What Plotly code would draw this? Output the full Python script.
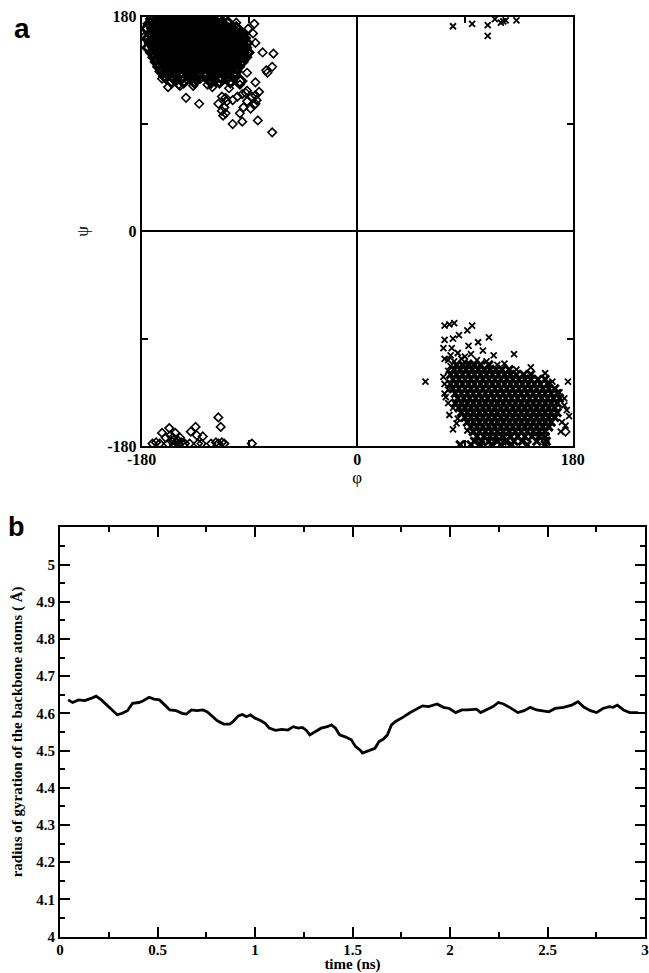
import plotly.graph_objects as go

# ---------------- Panel a : Ramachandran plot (degrees) ----------------
# residue with diamonds: dense core read as rows (psi level -> phi positions)
beta_core_psi = [178, 174, 170, 166, 162, 158, 154, 150, 146, 142, 138, 134, 130, 126]
beta_core_phi = [
    [-171, -166, -161, -156, -151, -146, -141, -136, -131, -126, -121, -116],
    [-173, -168, -163, -158, -153, -148, -143, -138, -133, -128, -123, -118, -113, -108],
    [-175, -170, -165, -160, -155, -150, -145, -140, -135, -130, -125, -120, -115, -110, -105, -101],
    [-172, -167, -162, -157, -152, -147, -142, -137, -132, -127, -122, -117, -112, -107, -102, -97],
    [-174, -169, -164, -159, -154, -149, -144, -139, -134, -129, -124, -119, -114, -109, -104, -99, -95],
    [-172, -167, -162, -157, -152, -147, -142, -137, -132, -127, -122, -117, -112, -107, -102, -97, -93],
    [-174, -169, -164, -159, -154, -149, -144, -139, -134, -129, -124, -119, -114, -109, -104, -99, -94],
    [-171, -166, -161, -156, -151, -146, -141, -136, -131, -126, -121, -116, -111, -106, -101, -96, -92],
    [-169, -164, -159, -154, -149, -144, -139, -134, -129, -124, -119, -114, -109, -104, -99, -94],
    [-167, -162, -157, -152, -147, -142, -137, -132, -127, -122, -117, -112, -107, -102, -97],
    [-165, -160, -155, -150, -145, -140, -135, -130, -125, -120, -115, -110, -105, -100],
    [-163, -157, -152, -147, -142, -137, -132, -127, -122, -117, -112, -107, -102],
    [-160, -154, -146, -140, -134, -126, -120, -114, -108, -103],
    [-155, -145, -136, -122, -115, -106, -98],
]
beta_extra_phi = [-178, -153, -149, -143, -132, -112, -104, -96, -83, -71, -70, -71, -75, -79, -86,
                  -101, -85, -85, -89, -98, -116, -110, -111, -121, -107, -93, -85, -76, -92, -85,
                  -91, -94, -87, -113, -110, -98, -92, -88, -84, -92, -96, -86, -82, -100, -104,
                  -95, -163, -158, -152, -148, -142, -137, -131, -125, -119, -113, -109,
                  # wrapped region at psi ~ -180
                  -171, -168, -165, -163, -160, -158, -157, -155, -153, -152, -150, -149, -147,
                  -144, -140, -139, -135, -134, -133, -129, -130, -122, -118, -116, -114, -116,
                  -113, -111, -88, -156, -154, -151, -148, 174]
beta_extra_psi = [163, 133, 123, 112, 107, 97, 90, 92, 93, 83, 149, 138, 133, 150, 174,
                  175, 114, 107, 103, 99, 107, 112, 104, 121, 120, 116, 125, 135, 133, 158,
                  170, 166, 166, 101, 99, 123, 118, 113, 110, 109, 115, 106, 117, 113, 110,
                  104, 128, 121, 126, 122, 127, 122, 128, 123, 126, 113, 109,
                  -178, -177, -178, -169, -173, -178, -165, -176, -179, -169, -175, -178, -177,
                  -178, -178, -168, -164, -171, -178, -172, -178, -178, -177, -156, -164, -178,
                  -177, -178, -178, -171, -173, -177, -173, -168]

# residue with crosses: dense core rows
alpha_core_psi = [-112, -116, -120, -124, -128, -132, -136, -140, -144, -148,
                  -152, -156, -160, -164, -168, -172, -176, -179]
alpha_core_phi = [
    [83, 88, 93, 98, 103, 110],
    [81, 86, 91, 96, 101, 106, 111, 116, 121, 127],
    [78, 83, 88, 93, 98, 103, 108, 113, 118, 123, 128, 133, 139, 145],
    [80, 85, 90, 95, 100, 105, 110, 115, 120, 125, 130, 135, 140, 145, 151, 157],
    [78, 83, 88, 93, 98, 103, 108, 113, 118, 123, 128, 133, 138, 143, 148, 153, 159],
    [80, 85, 90, 95, 100, 105, 110, 115, 120, 125, 130, 135, 140, 145, 150, 155, 160, 165],
    [82, 87, 92, 97, 102, 107, 112, 117, 122, 127, 132, 137, 142, 147, 152, 157, 162, 167],
    [84, 89, 94, 99, 104, 109, 114, 119, 124, 129, 134, 139, 144, 149, 154, 159, 164, 169],
    [82, 87, 92, 97, 102, 107, 112, 117, 122, 127, 132, 137, 142, 147, 152, 157, 162, 167],
    [85, 90, 95, 100, 105, 110, 115, 120, 125, 130, 135, 140, 145, 150, 155, 160, 165],
    [87, 92, 97, 102, 107, 112, 117, 122, 127, 132, 137, 142, 147, 152, 157, 162, 167],
    [90, 95, 100, 105, 110, 115, 120, 125, 130, 135, 140, 145, 150, 155, 160, 165],
    [92, 97, 102, 107, 112, 117, 122, 127, 132, 137, 142, 147, 152, 157, 162],
    [95, 100, 105, 110, 115, 120, 125, 130, 135, 140, 145, 150, 155, 160],
    [97, 102, 107, 112, 117, 122, 127, 132, 137, 142, 147, 152, 157],
    [100, 106, 111, 116, 122, 128, 134, 140, 146, 152, 157],
    [98, 104, 110, 117, 124, 131, 138, 150, 158],
    [86, 95, 103, 112, 120, 129, 142, 157],
]
alpha_extra_phi = [57, 73, 77, 81, 73, 80, 85, 92, 96, 101, 110, 72, 73, 79, 93, 105, 114,
                   131, 145, 157, 163, 176, 169, 173, 173, 170, 158, 73, 77, 83, 80, 92,
                   104, 122, 137, 72, 73, 76, 74, 76, 80, 84, 175, 177, 171, 174,
                   78, 84, 90, 95, 76, 81, 87, 93, 100, 108, 78, 117, 123, 76, 133,
                   # near psi = +180 (wrapped)
                   80, 96, 109, 109, 115, 120, 124, 133, 122]
alpha_extra_psi = [-126, -79, -78, -77, -91, -90, -87, -83, -79, -93, -89, -98, -107, -98,
                   -96, -100, -104, -103, -114, -119, -126, -126, -135, -140, -146, -168,
                   -176, -136, -154, -161, -166, -167, -176, -177, -176, -122, -128, -133,
                   -139, -144, -148, -157, -150, -155, -160, -163,
                   -104, -102, -105, -103, -108, -109, -107, -110, -108, -109, -113, -112,
                   -111, -117, -116,
                   172, 174, 173, 164, 178, 175, 177, 177, 176]

# ---------------- Panel b : radius of gyration ----------------
time_ns = [0.042, 0.064, 0.096, 0.127, 0.159, 0.185, 0.212, 0.240, 0.266, 0.293, 0.319,
           0.346, 0.372, 0.404, 0.425, 0.457, 0.482, 0.510, 0.538, 0.563, 0.595, 0.627,
           0.648, 0.674, 0.701, 0.733, 0.754, 0.776, 0.807, 0.839, 0.871, 0.892, 0.914,
           0.935, 0.956, 0.977, 0.999, 1.031, 1.052, 1.073, 1.105, 1.137, 1.169, 1.196,
           1.222, 1.243, 1.264, 1.281, 1.307, 1.339, 1.371, 1.392, 1.413, 1.434, 1.466,
           1.494, 1.515, 1.541, 1.551, 1.583, 1.615, 1.636, 1.657, 1.679, 1.700, 1.721,
           1.742, 1.764, 1.796, 1.827, 1.859, 1.891, 1.934, 1.966, 1.997, 2.029, 2.061,
           2.093, 2.136, 2.157, 2.189, 2.221, 2.248, 2.274, 2.306, 2.348, 2.380, 2.412,
           2.444, 2.476, 2.507, 2.539, 2.582, 2.624, 2.656, 2.688, 2.720, 2.752, 2.784,
           2.816, 2.837, 2.858, 2.890, 2.922, 2.964]
rg = [4.636, 4.629, 4.636, 4.634, 4.640, 4.646, 4.636, 4.622, 4.611, 4.596, 4.600,
      4.607, 4.627, 4.629, 4.633, 4.643, 4.638, 4.636, 4.622, 4.609, 4.607, 4.600,
      4.598, 4.609, 4.607, 4.609, 4.604, 4.593, 4.580, 4.571, 4.571, 4.580, 4.593,
      4.597, 4.591, 4.596, 4.587, 4.580, 4.573, 4.560, 4.554, 4.557, 4.555, 4.564,
      4.560, 4.562, 4.554, 4.542, 4.551, 4.560, 4.564, 4.569, 4.560, 4.542, 4.536,
      4.529, 4.511, 4.500, 4.493, 4.500, 4.506, 4.524, 4.530, 4.542, 4.569, 4.578,
      4.584, 4.591, 4.602, 4.611, 4.620, 4.618, 4.625, 4.616, 4.613, 4.602, 4.609,
      4.609, 4.611, 4.602, 4.611, 4.618, 4.629, 4.625, 4.616, 4.602, 4.607, 4.616,
      4.609, 4.607, 4.604, 4.613, 4.616, 4.622, 4.631, 4.616, 4.607, 4.602, 4.613,
      4.618, 4.616, 4.622, 4.609, 4.602, 4.602]

rama_ticks = [-180, -90, 0, 90, 180]
rama_ticktext = ["-180", "", "0", "", "180"]
rg_ticks = [4.0, 4.1, 4.2, 4.3, 4.4, 4.5, 4.6, 4.7, 4.8, 4.9, 5.0]
rg_ticktext = ["4", "4.1", "4.2", "4.3", "4.4", "4.5", "4.6", "4.7", "4.8", "4.9", "5"]
time_ticks = [0, 0.5, 1, 1.5, 2, 2.5, 3]
time_ticktext = ["0", "0.5", "1", "1.5", "2", "2.5", "3"]


def flatten(row_psi, row_phi):
    xs, ys = [], []
    for psi, row in zip(row_psi, row_phi):
        for phi in row:
            xs.append(phi)
            ys.append(psi)
    return xs, ys


def bold(labels):
    return ["<b>%s</b>" % t if t else "" for t in labels]


beta_core_x, beta_core_y = flatten(beta_core_psi, beta_core_phi)
alpha_core_x, alpha_core_y = flatten(alpha_core_psi, alpha_core_phi)

W, H = 649, 973
SERIF = "Liberation Serif"
tickfont_a = dict(family=SERIF, size=16, color="black")
tickfont_b = dict(family=SERIF, size=15, color="black")

fig = go.Figure()
# dense (heavily overlapping) cores
fig.add_trace(go.Scatter(
    x=beta_core_x, y=beta_core_y, mode="markers", xaxis="x", yaxis="y",
    marker=dict(symbol="diamond-open", size=9, color="black", line=dict(width=3, color="black")),
    showlegend=False, hoverinfo="skip"))
fig.add_trace(go.Scatter(
    x=alpha_core_x, y=alpha_core_y, mode="markers", xaxis="x", yaxis="y",
    marker=dict(symbol="x-thin", size=8, color="black", line=dict(width=3, color="black")),
    showlegend=False, hoverinfo="skip"))
# sparse points
fig.add_trace(go.Scatter(
    x=beta_extra_phi, y=beta_extra_psi, mode="markers", xaxis="x", yaxis="y",
    marker=dict(symbol="diamond-open", size=6.5, color="black", line=dict(width=1.6, color="black")),
    showlegend=False, hoverinfo="skip"))
fig.add_trace(go.Scatter(
    x=alpha_extra_phi, y=alpha_extra_psi, mode="markers", xaxis="x", yaxis="y",
    marker=dict(symbol="x-thin", size=6, color="black", line=dict(width=1.8, color="black")),
    showlegend=False, hoverinfo="skip"))
fig.add_trace(go.Scatter(
    x=time_ns, y=rg, mode="lines", xaxis="x2", yaxis="y2",
    line=dict(color="black", width=2.8), showlegend=False, hoverinfo="skip"))

common = dict(showline=True, linecolor="black", linewidth=2, mirror="ticks",
              ticks="inside", tickcolor="black", showgrid=False, automargin=False)

ax_a_x0, ax_a_x1 = 141.7 / W, 572.7 / W
ax_a_y0, ax_a_y1 = 1 - 446.0 / H, 1 - 16.7 / H
ax_b_x0, ax_b_x1 = 60.0 / W, 645.0 / W
ax_b_y0, ax_b_y1 = 1 - 936.5 / H, 1 - 527.3 / H

fig.update_layout(
    width=W, height=H, autosize=False,
    margin=dict(l=0, r=0, t=0, b=0, pad=0),
    paper_bgcolor="white", plot_bgcolor="white",
    xaxis=dict(domain=[ax_a_x0, ax_a_x1], anchor="y", range=[-180, 180],
               tickvals=rama_ticks, ticktext=bold(rama_ticktext), ticklen=6, tickwidth=1.5,
               tickfont=tickfont_a, zeroline=True, zerolinecolor="black", zerolinewidth=1.5,
               ticklabelstandoff=-2,
               title=dict(text="φ", font=dict(family=SERIF, size=17, color="black"), standoff=0),
               **common),
    yaxis=dict(domain=[ax_a_y0, ax_a_y1], anchor="x", range=[-180, 180],
               tickvals=rama_ticks, ticktext=bold(rama_ticktext), ticklen=6, tickwidth=1.5,
               tickfont=tickfont_a, zeroline=True, zerolinecolor="black", zerolinewidth=1.5,
               title=dict(text="ψ", font=dict(family=SERIF, size=17, color="black"), standoff=14),
               **common),
    xaxis2=dict(domain=[ax_b_x0, ax_b_x1], anchor="y2", range=[0, 3],
                tickvals=time_ticks, ticktext=bold(time_ticktext), ticklen=10, tickwidth=2,
                minor=dict(ticks="inside", ticklen=5, tickwidth=2, tickcolor="black",
                           dtick=0.25, tick0=0, showgrid=False),
                tickfont=tickfont_b, zeroline=False, ticklabelstandoff=-2,
                title=dict(text="<b>time (ns)</b>", font=tickfont_b, standoff=2),
                **common),
    yaxis2=dict(domain=[ax_b_y0, ax_b_y1], anchor="x2", range=[4, 5.1],
                tickvals=rg_ticks, ticktext=bold(rg_ticktext), ticklen=10, tickwidth=2,
                minor=dict(ticks="inside", ticklen=5, tickwidth=2, tickcolor="black",
                           dtick=0.05, tick0=4, showgrid=False),
                tickfont=tickfont_b, zeroline=False,
                title=dict(text="<b>radius of gyration of the backbone atoms ( Å)</b>",
                           font=tickfont_b, standoff=10),
                **common),
    annotations=[
        dict(text="<b>a</b>", x=22.5 / W, y=1 - 28 / H, xref="paper", yref="paper",
             showarrow=False, xanchor="center", yanchor="middle",
             font=dict(family="Liberation Sans", size=28, color="black")),
        dict(text="<b>b</b>", x=16.5 / W, y=1 - 527 / H, xref="paper", yref="paper",
             showarrow=False, xanchor="center", yanchor="middle",
             font=dict(family="Liberation Sans", size=27, color="black")),
    ],
)

fig.write_html("out.html", config={"displayModeBar": False},
               post_script="document.body.style.margin='0px';document.body.style.overflow='hidden';")
